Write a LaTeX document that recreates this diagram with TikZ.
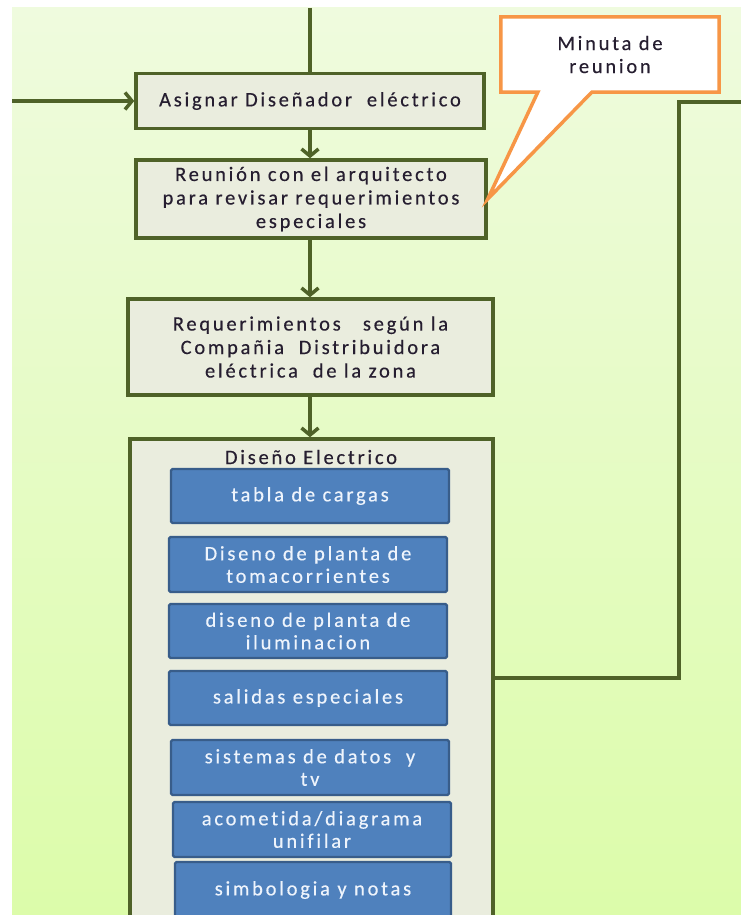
\documentclass[tikz,border=0pt]{standalone}
\usepackage{fontspec}
\setmainfont{Carlito}[LetterSpace=13.5, Ligatures={NoCommon}, FakeBold=0.35]
\usetikzlibrary{arrows.meta,calc}

\definecolor{bgtop}{RGB}{239,251,222}
\definecolor{bgbot}{RGB}{220,252,170}
\definecolor{olivedark}{RGB}{79,98,40}
\definecolor{boxfill}{RGB}{234,237,222}
\definecolor{txtdark}{RGB}{38,30,48}
\definecolor{bluefill}{RGB}{79,129,189}
\definecolor{blueline}{RGB}{56,93,138}
\definecolor{bluetext}{RGB}{238,244,252}
\definecolor{calloutline}{RGB}{247,150,70}

\tikzset{
  procbox/.style={draw=olivedark, line width=3.5pt, fill=boxfill, text=txtdark,
    align=center, inner sep=0pt, font=\fontsize{20.5pt}{23.5pt}\selectfont},
  taskbox/.style={draw=blueline, line width=2.2pt, fill=bluefill, text=bluetext,
    rounded corners=1.5pt, align=center, inner sep=0pt,
    minimum width=278pt, minimum height=54pt,
    font=\fontsize{20.5pt}{22.5pt}\selectfont},
  flow/.style={draw=olivedark, line width=3.5pt,
    -{Straight Barb[length=7pt,width=17pt,line width=3.5pt]}},
  link/.style={draw=olivedark, line width=3.5pt},
}

\begin{document}
\begin{tikzpicture}[x=1pt,y=-1pt]
\useasboundingbox (0,0) rectangle (741,915);
\clip (0,0) rectangle (741,915);

% page background
\shade[top color=bgtop, bottom color=bgbot] (12,8) rectangle (741,915);

% free ends of the incoming and outgoing lines
\coordinate (topin) at (310,8);
\coordinate (leftin) at (12,101);
\coordinate (rightout) at (741,102);

% process steps
\node[procbox, minimum width=348pt, minimum height=55pt] (asignar) at (310,101)
  {Asignar Diseñador\ \ eléctrico};
\node[procbox, minimum width=350pt, minimum height=78pt] (reunion) at (311,199)
  {Reunión con el arquitecto\\para revisar requerimientos\\especiales};
\node[procbox, minimum width=365pt, minimum height=96pt] (requer) at (310.5,347)
  {Requerimientos\ \ \ según la\\Compañia\ \ Distribuidora\\eléctrica\ \ de la zona};

% electrical design container
\node[procbox, minimum width=363pt, minimum height=501pt] (diseno) at (311.5,689.5) {};
\node[text=txtdark, inner sep=0pt, font=\fontsize{20.5pt}{23.5pt}\selectfont] (disenotitle) at (311,457) {Diseño Electrico};

\node[taskbox] (cargas) at (310,496) {tabla de cargas};
\node[taskbox, minimum height=55pt] (toma) at (308,564.5) {Diseno de planta de\\tomacorrientes};
\node[taskbox] (ilum) at (308,631) {diseno de planta de\\iluminacion};
\node[taskbox] (salidas) at (308,698) {salidas especiales};
\node[taskbox, minimum height=55pt] (datos) at (310,767.5) {sistemas de datos\ \ y\\tv};
\node[taskbox, minimum height=55pt] (acometida) at (312,829.5) {acometida/diagrama\\unifilar};
\node[taskbox, minimum width=276pt, minimum height=56pt] (simbologia) at (313,890) {simbologia y notas};

% meeting minutes callout
\node[inner sep=0pt, minimum width=218pt, minimum height=75pt] (minuta) at (610,54.5) {};
\draw[draw=calloutline, line width=3.5pt, fill=white, line join=miter]
  (minuta.north west) -- (minuta.north east) -- (minuta.south east)
  -- ($(minuta.south west)+(91,0)$) -- (reunion.east)
  -- ($(minuta.south west)+(37,0)$) -- (minuta.south west) -- cycle;
\node[inner sep=0pt, text=txtdark, align=center,
  font=\fontsize{20.5pt}{23pt}\selectfont] (minutatext) at (minuta.center) {Minuta de\\reunion};

% connectors
\draw[link] (topin) -- (asignar.north);
\draw[flow] (leftin) -- (asignar.west);
\draw[flow] (asignar.south) -- (asignar.south |- reunion.north);
\draw[flow] (reunion.south -| asignar.south) -- (asignar.south |- requer.north);
\draw[flow] (requer.south -| asignar.south) -- (asignar.south |- diseno.north);
\draw[link, line join=miter] (diseno.east |- 0,678) -- (679,678) -- (679,102) -- (rightout);
\end{tikzpicture}
\end{document}
